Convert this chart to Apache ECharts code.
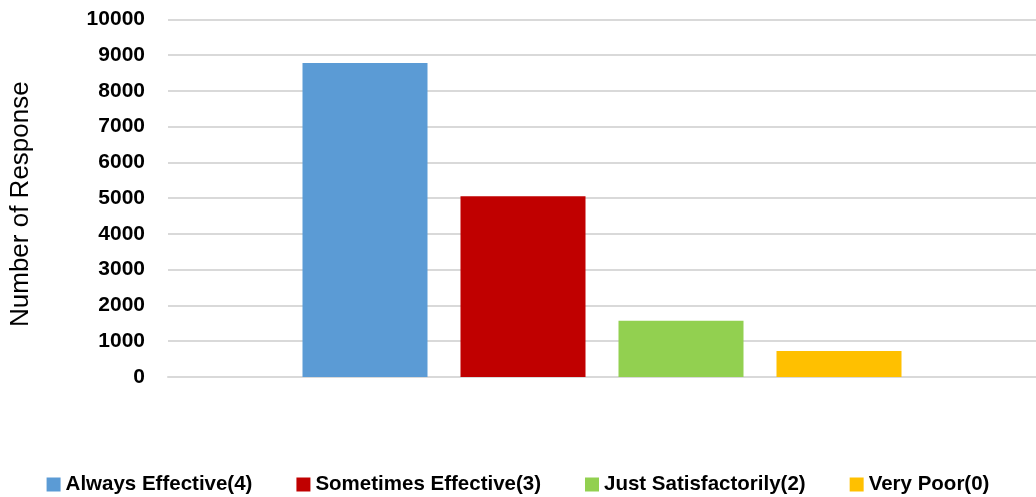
<!DOCTYPE html>
<html>
<head>
<meta charset="utf-8">
<script src="https://cdn.jsdelivr.net/npm/echarts@6/dist/echarts.min.js"></script>
<style>
html,body{margin:0;padding:0;background:#fff;}
#chart{width:1036px;height:497px;}
</style>
</head>
<body>
<div id="chart"></div>
<script>
var categories = [''];
var seriesNames = ['Always Effective(4)', 'Sometimes Effective(3)', 'Just Satisfactorily(2)', 'Very Poor(0)'];
var seriesValues = [8780, 5050, 1570, 730];
var seriesColors = ['#5b9bd5', '#c00000', '#92d050', '#ffc000'];
var yTicks = { min: 0, max: 10000, interval: 1000 };
var yAxisTitle = 'Number of Response';

var FONT = '"Liberation Sans", Arial, sans-serif';
var chart = echarts.init(document.getElementById('chart'));
var series = seriesNames.map(function (name, i) {
  return {
    name: name,
    type: 'bar',
    data: [seriesValues[i]],
    barWidth: 125,
    barGap: '26.4%',
    itemStyle: { color: seriesColors[i] },
    animation: false
  };
});
chart.setOption({
  animation: false,
  grid: { left: 168, right: 0, top: 19.3, bottom: 120, containLabel: false },
  legend: {
    data: seriesNames,
    left: 'center',
    top: 469,
    itemWidth: 14,
    itemHeight: 14,
    itemGap: 44,
    icon: 'rect',
    textStyle: { fontFamily: FONT, fontWeight: 'bold', fontSize: 20.5, color: '#000' }
  },
  xAxis: {
    type: 'category',
    data: categories,
    axisLine: { show: true, lineStyle: { color: '#d9d9d9', width: 2 } },
    axisTick: { show: false },
    axisLabel: { show: false }
  },
  yAxis: {
    type: 'value',
    min: yTicks.min,
    max: yTicks.max,
    interval: yTicks.interval,
    name: yAxisTitle,
    nameLocation: 'middle',
    nameRotate: 90,
    nameGap: 134,
    nameTextStyle: { fontFamily: FONT, fontSize: 26, color: '#000', padding: [0, 12, 0, 0] },
    axisLine: { show: false },
    axisTick: { show: false },
    axisLabel: {
      fontFamily: FONT, fontWeight: 'bold', fontSize: 21, color: '#000', margin: 23,
      formatter: function (v) { return String(v); }
    },
    splitLine: { lineStyle: { color: '#d9d9d9', width: 2 } }
  },
  series: series
});
</script>
</body>
</html>
